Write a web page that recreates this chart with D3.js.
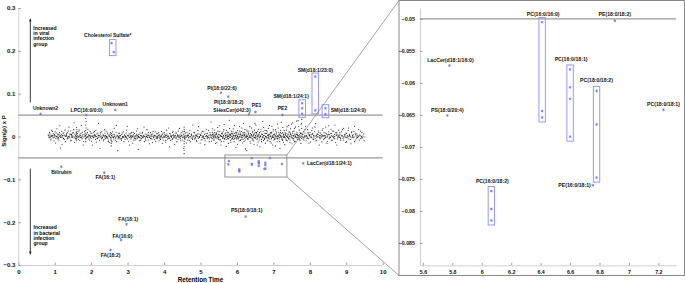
<!DOCTYPE html>
<html>
<head>
<meta http-equiv="Content-Type" content="text/html; charset=UTF-8">
<script src="https://cdn.jsdelivr.net/npm/d3@7"></script>
<style>
body { margin: 0; background: #fff; }
text { font-family: "Liberation Sans", Arial, sans-serif; font-weight: bold; }
</style>
</head>
<body>

<div class="container"></div>

<script>

// ---- data ----
// significant features in the full plot (rt = retention time, val = sign(rho) x P)
var mainNames = ["Cholesterol Sulfate*", "Unknown2", "LPC(16:0/0:0)", "Unknown1", "PI(18:0/22:6)",
                 "PI(18:0/18:2)", "SHexCer(d42:3)", "PE1", "PE2", "SM(d18:1/24:1)", "SM(d18:1/23:0)",
                 "SM(d18:1/24:0)", "Bilirubin", "FA(16:1)", "FA(18:1)", "FA(16:0)", "FA(18:2)",
                 "PS(18:0/18:1)", "LacCer(d18:1/24:1)"];
var mainRT = [[2.56, 2.62], [0.61], [1.86], [2.66], [5.56],
              [5.76], [6.33], [6.51], [7.25], [7.79, 7.79, 7.79], [8.15, 8.15],
              [8.43, 8.43], [1.18], [2.36], [2.97], [2.82], [2.53],
              [6.24], [7.82]];
var mainVal = [[0.218, 0.197], [0.0525], [0.05], [0.062], [0.102],
               [0.093], [0.052], [0.057], [0.05], [0.0775, 0.066, 0.053], [0.14, 0.061],
               [0.066, 0.052], [-0.0705], [-0.0845], [-0.205], [-0.2417], [-0.265],
               [-0.187], [-0.0627]];

// features inside the zoomed window
var zoomNames = ["LacCer(d18:1/16:0)", "PS(18:0/20:4)", "PC(16:0/16:0)", "PE(18:0/18:2)", "PC(16:0/18:1)",
                 "PC(18:0/18:2)", "PE(16:0/18:1)", "PC(18:0/18:1)", "PC(16:0/18:2)"];
var zoomRT = [[5.78], [5.766], [6.41, 6.41, 6.41], [6.904], [6.6, 6.6, 6.6, 6.6],
              [6.78, 6.78, 6.78], [6.755], [7.235], [6.065, 6.065, 6.065]];
var zoomVal = [[-0.0573], [-0.0651], [-0.0505, -0.0644, -0.0654], [-0.0503], [-0.0579, -0.0607, -0.0625, -0.0684],
               [-0.06125, -0.0665, -0.0748], [-0.076], [-0.0642], [-0.0769, -0.0797, -0.0815]];

var mainXTicks = [0, 1, 2, 3, 4, 5, 6, 7, 8, 9, 10];
var mainYTicks = [-0.3, -0.2, -0.1, 0, 0.1, 0.2, 0.3];
var zoomXTicks = [5.6, 5.8, 6, 6.2, 6.4, 6.6, 6.8, 7, 7.2];
var zoomYTicks = [-0.085, -0.08, -0.075, -0.07, -0.065, -0.06, -0.055, -0.05];
var cutoff = 0.05;
var zoomWindowRT = [5.67, 7.37];
var zoomWindowVal = [-0.0946, -0.0432];

// all other features (non significant), value in thousandths
var cloud = [
 [0.82,4],[0.84,-3],[0.86,9],[0.88,1],[0.9,-6],[0.91,14],[0.93,2],[0.95,-1],[0.96,7],[0.98,-10],[1.0,3],[1.01,11],[1.03,-4],[1.05,0],[1.06,18],[1.08,6],[1.1,-2],[1.11,-8],[1.13,9],[1.15,2],[1.16,-27],[1.18,5],[1.19,12],[1.21,-1],[1.23,7],[1.24,-5],[1.26,3],[1.28,15],[1.29,-12],[1.3,1],
 [1.32,4],[1.34,-6],[1.35,10],[1.37,0],[1.39,22],[1.4,-3],[1.42,6],[1.44,13],[1.45,-9],[1.47,2],[1.49,8],[1.5,-1],[1.52,16],[1.54,-14],[1.55,5],[1.57,-4],[1.59,9],[1.6,-10],[1.6,-5],[1.6,0],[1.6,4],[1.6,8],[1.61,12],[1.61,17],[1.6,21],[1.63,3],[1.65,-7],[1.66,11],[1.68,1],[1.7,-2],[1.72,7],[1.73,26],[1.75,-5],[1.77,4],[1.79,-11],
 [1.81,6],[1.83,0],[1.85,-12],[1.85,-6],[1.85,2],[1.85,8],[1.85,14],[1.86,20],[1.85,27],[1.86,35],[1.85,42],[1.88,-3],[1.9,9],[1.92,-1],[1.93,4],[1.95,-8],[1.97,12],[1.98,1],[2.0,-4],[2.02,7],[2.03,-20],[2.05,3],[2.07,10],[2.08,-2],[2.1,5],[2.12,-7],[2.13,14],[2.15,0],[2.17,-5],[2.18,8],[2.2,31],[2.22,2],[2.23,-9],[2.25,6],[2.27,-1],[2.29,11],
 [2.31,-3],[2.33,4],[2.34,-10],[2.36,1],[2.38,8],[2.39,-5],[2.41,13],[2.43,0],[2.44,-2],[2.46,6],[2.48,-8],[2.49,3],[2.51,-14],[2.53,9],[2.55,-22],[2.55,-16],[2.55,-9],[2.55,-3],[2.56,2],[2.56,7],[2.58,-1],[2.6,5],[2.62,-6],[2.63,19],[2.65,1],[2.67,-4],[2.68,10],[2.7,-12],[2.72,3],[2.73,-33],[2.75,0],[2.77,7],[2.79,-6],
 [2.81,2],[2.83,-9],[2.84,5],[2.86,-3],[2.88,11],[2.89,-1],[2.91,4],[2.93,-7],[2.94,0],[2.96,8],[2.98,-4],[2.99,24],[3.01,2],[3.03,-11],[3.04,6],[3.06,-2],[3.08,3],[3.09,-6],[3.11,9],[3.13,0],[3.14,-15],[3.16,4],[3.18,-3],[3.19,7],[3.21,-8],[3.23,1],[3.24,13],[3.26,-5],[3.28,2],[3.29,-30],
 [3.31,5],[3.33,-2],[3.34,8],[3.36,-9],[3.38,1],[3.39,-4],[3.41,10],[3.43,-1],[3.44,3],[3.46,-12],[3.48,6],[3.49,-6],[3.51,0],[3.53,16],[3.54,-3],[3.56,4],[3.58,-8],[3.59,2],[3.61,-2],[3.63,9],[3.64,-5],[3.66,1],[3.68,-14],[3.69,6],[3.71,-1],[3.73,3],[3.74,-7],[3.76,11],[3.78,0],[3.79,-4],
 [3.81,7],[3.83,-2],[3.84,2],[3.86,-10],[3.88,4],[3.89,-5],[3.91,0],[3.93,12],[3.94,-3],[3.96,5],[3.98,-8],[3.99,1],[4.01,9],[4.03,-1],[4.04,-13],[4.06,3],[4.08,6],[4.09,-6],[4.11,0],[4.13,20],[4.14,-3],[4.16,7],[4.18,-9],[4.19,2],[4.21,-2],[4.23,10],[4.24,-5],[4.26,4],[4.28,-1],[4.29,-18],
 [4.31,3],[4.33,-4],[4.34,8],[4.36,0],[4.38,-7],[4.39,13],[4.41,2],[4.43,-3],[4.44,6],[4.46,-10],[4.48,1],[4.49,9],[4.51,-2],[4.53,4],[4.55,-40],[4.55,-32],[4.55,-24],[4.55,-17],[4.55,-11],[4.56,-5],[4.55,0],[4.55,6],[4.56,12],[4.55,17],[4.55,22],[4.58,-6],[4.6,3],[4.62,-1],[4.63,10],[4.65,-8],[4.67,2],[4.68,-3],[4.7,7],[4.72,-12],[4.73,0],[4.75,5],[4.77,-5],[4.79,27],
 [4.81,1],[4.83,-6],[4.84,9],[4.86,-2],[4.88,4],[4.89,-9],[4.91,0],[4.93,14],[4.94,-4],[4.96,6],[4.98,-1],[4.99,-15],[5.01,3],[5.03,8],[5.04,-7],[5.06,1],[5.08,-3],[5.09,11],[5.11,5],[5.13,-10],[5.14,0],[5.16,17],[5.18,-4],[5.19,7],[5.21,-2],[5.23,3],[5.24,-12],[5.26,9],[5.28,-1],[5.29,34],
 [5.31,2],[5.32,-5],[5.33,10],[5.35,-1],[5.36,6],[5.37,-9],[5.38,15],[5.4,0],[5.41,4],[5.42,-3],[5.44,8],[5.45,-14],[5.46,1],[5.47,21],[5.49,-6],[5.5,5],[5.51,-2],[5.53,12],[5.54,-8],[5.55,3],[5.56,-20],[5.58,7],[5.59,0],[5.6,-4],[5.62,11],[5.63,2],[5.64,-11],[5.65,28],[5.67,6],[5.68,-3],[5.69,1],[5.71,14],[5.72,-7],[5.73,4],[5.74,-1],[5.76,9],[5.77,-16],[5.78,2],[5.79,38],
 [5.81,-2],[5.82,6],[5.83,-9],[5.85,12],[5.86,0],[5.87,4],[5.88,-5],[5.9,18],[5.91,2],[5.92,-12],[5.93,7],[5.95,-1],[5.96,10],[5.97,-25],[5.98,3],[6.0,-6],[6.01,14],[6.02,1],[6.03,-3],[6.05,8],[6.06,-10],[6.07,24],[6.08,0],[6.1,5],[6.11,-7],[6.12,12],[6.13,-1],[6.15,3],[6.16,-15],[6.17,9],[6.18,31],[6.2,-4],[6.21,2],[6.22,16],[6.23,-8],[6.25,6],[6.26,-2],[6.27,-33],[6.28,11],[6.29,0],
 [6.31,4],[6.32,-6],[6.33,13],[6.35,1],[6.36,-11],[6.37,7],[6.38,-2],[6.4,20],[6.41,3],[6.42,-8],[6.43,10],[6.45,-1],[6.46,5],[6.47,-18],[6.48,15],[6.5,-4],[6.51,2],[6.52,27],[6.53,8],[6.55,-7],[6.56,0],[6.57,12],[6.58,-13],[6.6,4],[6.61,-3],[6.62,9],[6.63,-24],[6.65,1],[6.66,17],[6.67,-6],[6.68,6],[6.7,-1],[6.71,35],[6.72,11],[6.73,-9],[6.75,3],[6.76,-4],[6.77,14],[6.78,-16],[6.79,0],
 [6.81,7],[6.82,-3],[6.83,11],[6.85,-8],[6.86,2],[6.87,19],[6.88,-1],[6.9,5],[6.91,-12],[6.92,9],[6.93,0],[6.95,-5],[6.96,24],[6.97,3],[6.98,-20],[7.0,13],[7.01,-2],[7.02,6],[7.03,-7],[7.05,1],[7.06,16],[7.07,-4],[7.08,8],[7.1,-11],[7.11,29],[7.12,2],[7.13,-1],[7.15,10],[7.16,-6],[7.17,4],[7.18,-28],[7.2,14],[7.21,0],[7.22,-3],[7.23,7],[7.25,-9],[7.26,21],[7.27,1],[7.28,-14],[7.29,5],
 [7.31,-2],[7.32,9],[7.33,3],[7.35,-6],[7.36,15],[7.37,0],[7.38,-10],[7.4,6],[7.41,26],[7.42,-3],[7.43,11],[7.45,1],[7.46,-8],[7.47,18],[7.48,4],[7.5,-1],[7.51,-17],[7.52,8],[7.53,32],[7.55,2],[7.56,-5],[7.57,13],[7.58,-12],[7.6,0],[7.61,22],[7.62,6],[7.63,-3],[7.65,10],[7.66,-7],[7.67,3],[7.68,37],[7.7,-2],[7.71,15],[7.72,1],[7.73,-9],[7.75,7],[7.76,28],[7.77,-4],[7.78,40],[7.78,19],[7.79,-1],
 [7.81,5],[7.82,-6],[7.83,12],[7.85,0],[7.86,-3],[7.87,8],[7.88,24],[7.9,-10],[7.91,3],[7.93,-1],[7.94,16],[7.96,6],[7.97,-5],[7.99,2],[8.01,10],[8.02,-13],[8.04,4],[8.05,-2],[8.07,20],[8.08,7],[8.1,-7],[8.11,1],[8.13,11],[8.15,-4],[8.16,30],[8.18,3],[8.19,-9],[8.21,6],[8.22,-1],[8.24,13],[8.26,-20],[8.27,2],[8.29,8],
 [8.31,-3],[8.33,5],[8.34,14],[8.36,0],[8.38,-7],[8.39,9],[8.41,2],[8.43,-2],[8.44,22],[8.46,6],[8.48,-11],[8.49,1],[8.51,11],[8.53,-5],[8.54,4],[8.56,-1],[8.58,17],[8.59,7],[8.61,-8],[8.63,0],[8.64,12],[8.66,-3],[8.68,5],[8.69,27],[8.71,-14],[8.73,3],[8.74,9],[8.76,-6],[8.78,1],[8.79,15],
 [8.81,-2],[8.83,6],[8.85,-9],[8.87,11],[8.89,1],[8.91,-4],[8.93,19],[8.95,4],[8.97,-1],[8.99,8],[9.01,-12],[9.03,2],[9.05,14],[9.07,-6],[9.09,5],[9.11,0],[9.13,-17],[9.15,9],[9.17,3],[9.19,-3],[9.21,12],[9.23,24],[9.25,-8],[9.27,1],[9.29,6],[9.31,-2],[9.34,16],[9.37,4],[9.4,-5],[9.43,9],[9.46,1],[9.49,-10],
 [0.85,-1],[0.87,6],[0.89,-8],[0.92,3],[0.94,12],[0.97,-3],[0.99,5],[1.02,-15],[1.04,8],[1.07,1],[1.09,-5],[1.12,4],[1.14,25],[1.17,-2],[1.2,-18],[1.22,3],[1.25,10],[1.27,-7],[1.31,0],[1.33,7],[1.36,-4],[1.38,13],[1.41,1],[1.43,-10],[1.46,5],[1.48,-2],[1.51,9],[1.53,32],[1.56,0],[1.58,-6],[1.62,7],[1.64,-2],[1.67,15],[1.69,-9],[1.71,3],[1.74,-1],[1.76,10],[1.78,-20],
 [1.82,12],[1.84,-4],[1.87,5],[1.89,-1],[1.91,17],[1.94,-6],[1.96,2],[1.99,8],[2.01,-11],[2.04,0],[2.06,-3],[2.09,12],[2.11,2],[2.14,-13],[2.16,6],[2.19,-2],[2.21,3],[2.24,-28],[2.26,9],[2.28,-5],[2.32,1],[2.35,-7],[2.37,16],[2.4,2],[2.42,-3],[2.45,8],[2.47,-12],[2.5,0],[2.52,5],[2.54,-6],[2.57,-12],[2.59,11],[2.61,-2],[2.64,4],[2.66,-9],[2.69,26],[2.71,1],[2.74,-5],[2.76,8],[2.78,-2],
 [2.82,-5],[2.85,8],[2.87,0],[2.9,-12],[2.92,3],[2.95,-2],[2.97,15],[3.0,-6],[3.02,1],[3.05,-20],[3.07,7],[3.1,-3],[3.12,2],[3.15,10],[3.17,-8],[3.2,0],[3.22,-4],[3.25,5],[3.27,18],[3.3,-2],[3.32,-10],[3.35,3],[3.37,-5],[3.4,7],[3.42,-1],[3.45,22],[3.47,0],[3.5,-9],[3.52,4],[3.55,-2],[3.57,9],[3.6,-17],[3.62,1],[3.65,5],[3.67,-6],[3.7,12],[3.72,-3],[3.75,2],[3.77,-11],[3.8,6],
 [3.82,-4],[3.85,9],[3.87,-1],[3.9,-7],[3.92,3],[3.95,-16],[3.97,8],[4.0,-2],[4.02,4],[4.05,-9],[4.07,15],[4.1,1],[4.12,-4],[4.15,-24],[4.17,6],[4.2,0],[4.22,-7],[4.25,11],[4.27,2],[4.3,-3],[4.32,8],[4.35,-12],[4.37,4],[4.4,-1],[4.42,19],[4.45,-5],[4.47,3],[4.5,-8],[4.52,12],[4.54,-28],[4.57,-2],[4.59,8],[4.61,-15],[4.64,1],[4.66,6],[4.69,-9],[4.71,14],[4.74,-3],[4.76,3],[4.78,-7],
 [4.82,10],[4.85,-4],[4.87,2],[4.9,-11],[4.92,6],[4.95,23],[4.97,-2],[5.0,4],[5.02,-8],[5.05,12],[5.07,0],[5.1,-5],[5.12,-19],[5.15,7],[5.17,2],[5.2,-3],[5.22,14],[5.25,-6],[5.27,4],[5.3,-11],[5.325,18],[5.345,3],[5.37,-3],[5.39,9],[5.415,-16],[5.435,5],[5.46,-1],[5.48,12],[5.505,-7],[5.525,25],[5.55,1],[5.57,-12],[5.595,8],[5.615,-3],[5.64,16],[5.66,-6],[5.685,3],[5.705,-23],[5.73,10],[5.75,0],[5.775,-5],[5.795,19],
 [5.815,4],[5.835,-14],[5.855,7],[5.875,-1],[5.895,11],[5.915,-7],[5.935,26],[5.955,2],[5.975,-4],[5.995,9],[6.015,-18],[6.035,5],[6.055,-1],[6.075,13],[6.095,-9],[6.115,3],[6.135,20],[6.155,-3],[6.175,6],[6.195,-11],[6.215,10],[6.235,-29],[6.255,1],[6.275,15],[6.295,-6],[6.315,8],[6.335,-2],[6.355,23],[6.375,-15],[6.395,4],[6.415,-4],[6.435,12],[6.455,-10],[6.475,6],[6.495,30],[6.515,-2],[6.535,9],[6.555,-20],[6.575,3],[6.595,17],[6.615,-8],[6.635,1],[6.655,11],[6.675,-12],[6.695,5],[6.715,-3],[6.735,21],[6.755,-7],[6.775,8],[6.795,-1],
 [6.815,14],[6.835,-10],[6.855,4],[6.875,-4],[6.895,26],[6.915,1],[6.935,-15],[6.955,9],[6.975,-2],[6.995,17],[7.015,-8],[7.035,5],[7.055,-22],[7.075,11],[7.095,0],[7.115,-5],[7.135,20],[7.155,6],[7.175,-12],[7.195,2],[7.215,33],[7.235,-7],[7.255,9],[7.275,-2],[7.295,14],[7.315,-19],[7.335,4],[7.355,-9],[7.375,23],[7.395,1],[7.415,-5],[7.435,10],[7.455,-14],[7.475,5],[7.495,29],[7.515,-3],[7.535,12],[7.555,-8],[7.575,19],[7.595,3],[7.615,-11],[7.635,36],[7.655,5],[7.675,-1],[7.695,24],[7.715,-6],[7.735,9],[7.755,-16],[7.775,31],[7.795,4],
 [7.84,-8],[7.865,17],[7.895,1],[7.92,-4],[7.95,9],[7.975,-15],[8.0,5],[8.03,-1],[8.055,14],[8.085,-6],[8.11,3],[8.14,22],[8.165,-10],[8.195,6],[8.22,0],[8.25,10],[8.28,-5],[8.305,3],[8.33,-12],[8.36,18],[8.385,2],[8.415,-4],[8.44,8],[8.47,-16],[8.495,4],[8.52,25],[8.55,-2],[8.575,7],[8.605,-9],[8.63,13],[8.66,1],[8.685,-5],[8.715,9],[8.74,-20],[8.77,4],[8.795,-1],
 [8.82,10],[8.845,-5],[8.875,3],[8.9,16],[8.93,-8],[8.955,1],[8.985,-14],[9.01,7],[9.04,-3],[9.065,20],[9.095,2],[9.12,-7],[9.15,11],[9.175,-1],[9.205,4],[9.23,-12],[9.26,8],[9.29,-4],[9.32,2],[9.36,-8],[9.39,13],[9.42,0],[9.45,-3],[9.48,6],[9.51,-1],
 [0.837,2],[0.872,-2],[0.918,0],[0.953,3],[0.991,-1],[1.027,1],[1.068,-3],[1.096,4],[1.137,0],[1.172,-1],[1.208,2],[1.243,-4],[1.284,1],[1.319,3],[1.357,-2],[1.388,0],[1.426,5],[1.461,-1],[1.497,1],[1.538,-3],[1.569,3],[1.611,-1],[1.646,0],[1.688,4],[1.723,-2],[1.754,1],[1.797,-1],[1.834,3],[1.866,-3],[1.907,0],[1.941,2],[1.978,-2],[2.013,1],[2.058,-1],[2.087,3],[2.124,0],[2.161,-4],[2.196,2],[2.238,-1],[2.272,1],[2.309,-3],[2.347,2],[2.381,-1],[2.418,0],[2.457,-4],[2.492,1],[2.528,-2],[2.566,3],[2.604,-1],[2.639,0],[2.676,-3],[2.712,1],[2.748,-2],[2.786,2],[2.821,-4],[2.858,0],[2.897,-2],[2.934,1],[2.968,-1],[3.007,3],[3.042,-3],[3.081,0],[3.117,-2],[3.154,1],[3.191,-4],[3.228,2],[3.263,-1],[3.302,0],[3.339,-3],[3.374,2],[3.412,-1],[3.447,1],[3.486,-3],[3.521,0],[3.559,2],[3.596,-2],[3.632,-4],[3.669,1],[3.707,-1],[3.744,2],[3.781,-3],[3.818,0],[3.856,3],[3.893,-1],[3.928,1],[3.966,-3],[4.003,0],[4.041,2],[4.077,-2],[4.114,1],[4.152,-4],[4.188,0],[4.226,3],[4.263,-1],[4.301,1],[4.337,-3],[4.374,2],[4.412,-1],[4.449,0],[4.487,3],[4.523,-2],[4.562,1],[4.598,-1],[4.636,2],[4.673,-3],[4.709,0],[4.747,4],[4.784,-1],[4.822,1],[4.858,-3],[4.896,2],[4.933,-1],[4.971,0],[5.008,3],[5.045,-2],[5.083,1],[5.119,-4],[5.157,2],[5.194,0],[5.232,-2],[5.269,4],
 [5.305,-3],[5.326,5],[5.347,0],[5.368,-6],[5.389,3],[5.409,-1],[5.431,7],[5.452,-4],[5.473,1],[5.494,-2],[5.515,4],[5.536,-7],[5.557,2],[5.578,0],[5.599,6],[5.62,-3],[5.641,1],[5.662,-5],[5.683,8],[5.704,-1],[5.725,3],[5.746,-4],[5.767,0],[5.788,5],[5.809,-2],[5.83,2],[5.851,-6],[5.872,7],[5.893,-1],[5.914,3],[5.935,-4],[5.956,1],[5.977,6],[5.998,-2],[6.019,0],[6.04,-5],[6.061,4],[6.082,-1],[6.103,8],[6.124,-3],[6.145,2],[6.166,-7],[6.187,1],[6.208,5],[6.229,-2],[6.25,0],[6.271,3],[6.292,-5],[6.313,7],[6.334,-1],[6.355,2],[6.376,-3],[6.397,5],[6.418,0],[6.439,-6],[6.46,3],[6.481,-2],[6.502,9],[6.523,-1],[6.544,4],[6.565,-4],[6.586,1],[6.607,6],[6.628,-2],[6.649,0],[6.67,-7],[6.691,4],[6.712,-1],[6.733,2],[6.754,-4],[6.775,7],[6.796,0],[6.817,-3],[6.838,3],[6.859,-1],[6.88,5],[6.901,-6],[6.922,1],[6.943,8],[6.964,-2],[6.985,0],[7.006,4],[7.027,-4],[7.048,2],[7.069,-1],[7.09,6],[7.111,-5],[7.132,0],[7.153,3],[7.174,-2],[7.195,9],[7.216,-1],[7.237,1],[7.258,-6],[7.279,4],[7.3,0],[7.321,-3],[7.342,7],[7.363,1],[7.384,-2],[7.405,4],[7.426,-5],[7.447,0],[7.468,8],[7.489,-1],[7.51,3],[7.531,-4],[7.552,1],[7.573,6],[7.594,-2],[7.615,0],[7.636,5],[7.657,-3],[7.678,2],[7.699,-6],[7.72,4],[7.741,-1],[7.762,7],[7.783,0],
 [7.821,-2],[7.862,3],[7.903,0],[7.944,-4],[7.985,2],[8.026,-1],[8.067,5],[8.108,-3],[8.149,1],[8.19,-1],[8.231,4],[8.272,-2],[8.313,0],[8.354,3],[8.395,-4],[8.436,1],[8.477,-1],[8.518,5],[8.559,-2],[8.6,2],[8.641,-3],[8.682,0],[8.723,4],[8.764,-1],[8.805,2],[8.846,-3],[8.887,1],[8.928,-1],[8.969,4],[9.01,-2],[9.051,0],[9.092,3],[9.133,-3],[9.174,1],[9.215,-1],[9.256,4],[9.297,-2],[9.338,0],[9.379,2],[9.42,-3]
];

// ---- label placement (px offsets from the topmost point of each feature) ----
var mainLabelPos = {
    "Cholesterol Sulfate*": [-3.8, -6.1, "middle"], "Unknown2": [5, -4.5, "middle"],
    "LPC(16:0/0:0)": [0.5, -3.5, "middle"], "Unknown1": [0, -4, "middle"],
    "PI(18:0/22:6)": [1, -3.3, "middle"], "PI(18:0/18:2)": [0.5, 7, "middle"],
    "SHexCer(d42:3)": [-17, -2.7, "middle"], "PE1": [1, -4.6, "middle"], "PE2": [0, -4.8, "middle"],
    "SM(d18:1/24:1)": [-11, -5.8, "middle"], "SM(d18:1/23:0)": [0, -5, "middle"],
    "SM(d18:1/24:0)": [5.2, 3.5, "start"], "Bilirubin": [0, 7.3, "middle"], "FA(16:1)": [1, 6.3, "middle"],
    "FA(18:1)": [1.7, -3.5, "middle"], "FA(16:0)": [1.4, -2.2, "middle"], "FA(18:2)": [0, 7, "middle"],
    "PS(18:0/18:1)": [1, -4.1, "middle"], "LacCer(d18:1/24:1)": [3.7, 1.8, "start"]
};
var zoomLabelPos = {
    "LacCer(d18:1/16:0)": [1, -3.6, "middle"], "PS(18:0/20:4)": [0, -3.8, "middle"],
    "PC(16:0/16:0)": [1, -5.6, "middle"], "PE(18:0/18:2)": [0, -4.4, "middle"],
    "PC(16:0/18:1)": [1, -8.3, "middle"], "PC(18:0/18:2)": [0, -8.4, "middle"],
    "PE(16:0/18:1)": [-2, 1.8, "end"], "PC(18:0/18:1)": [0, -3.4, "middle"],
    "PC(16:0/18:2)": [1, -8.4, "middle"]
};

var width = 685;
var height = 283;
var blue = "#7272f2";
var boxBlue = "#8c8cff";
var axisGray = "#999";

var svg = d3.select(".container")
            .append("svg")
                .attr("width", width)
                .attr("height", height);

// ---- main panel ----
var x = d3.scaleLinear().domain([0, 10]).range([18.3, 382.7]);
var y = d3.scaleLinear().domain([-0.3, 0.3]).range([265, 8]);

var main = svg.append("g");

main.append("g")
    .attr("transform", "translate(0," + y(-0.3) + ")")
    .call(d3.axisBottom(x).tickValues(mainXTicks).tickSizeInner(-2.5).tickSizeOuter(0).tickPadding(4.5))
    .call(styleAxis, 6);

main.append("g")
    .attr("transform", "translate(" + x(0) + ",0)")
    .call(d3.axisLeft(y).tickValues(mainYTicks).tickSizeInner(-2.5).tickSizeOuter(0).tickPadding(3)
          .tickFormat(function(d) { return d3.format("~g")(d); }))
    .call(styleAxis, 6);

// significance cut offs
main.selectAll("line.cut")
    .data([cutoff, -cutoff])
    .enter().append("line")
        .attr("class", "cut")
        .attr("x1", x(0)).attr("x2", x(10))
        .attr("y1", function(d) { return y(d); })
        .attr("y2", function(d) { return y(d); })
        .style("stroke", axisGray)
        .style("stroke-width", 1.4);

main.append("g").selectAll("circle")
    .data(cloud)
    .enter().append("circle")
        .attr("cx", function(d) { return x(d[0]); })
        .attr("cy", function(d) { return y(d[1] / 1000); })
        .attr("r", 0.55)
        .style("fill", "#111");

drawFeatures(main, x, y, mainNames, mainRT, mainVal, mainLabelPos, 3.3, 3.5, 5);
drawFeatures(main, x, y, zoomNames, zoomRT, zoomVal, null, 0, 0, 5);

// window that gets magnified
var wx0 = x(zoomWindowRT[0]), wx1 = x(zoomWindowRT[1]);
var wy0 = y(zoomWindowVal[1]), wy1 = y(zoomWindowVal[0]);
main.append("rect")
    .attr("x", wx0).attr("y", wy0)
    .attr("width", wx1 - wx0).attr("height", wy1 - wy0)
    .style("fill", "none")
    .style("stroke", "#8a8a8a")
    .style("stroke-width", 0.9);

// arrows + group annotations
var defs = svg.append("defs");
defs.append("marker")
    .attr("id", "head")
    .attr("viewBox", "0 0 10 10")
    .attr("refX", 9).attr("refY", 5)
    .attr("markerWidth", 3.5).attr("markerHeight", 3.5)
    .attr("orient", "auto")
  .append("path")
    .attr("d", "M0,1L10,5L0,9z")
    .style("fill", "#222");

main.append("line")
    .attr("x1", 30.3).attr("x2", 30.3)
    .attr("y1", y(0.08)).attr("y2", y(0.275))
    .style("stroke", "#222").style("stroke-width", 0.9)
    .attr("marker-end", "url(#head)");
main.append("line")
    .attr("x1", 30.3).attr("x2", 30.3)
    .attr("y1", y(-0.075)).attr("y2", y(-0.275))
    .style("stroke", "#222").style("stroke-width", 0.9)
    .attr("marker-end", "url(#head)");

addLines(main, 33.3, 30, ["Increased", "in viral", "infection", "group"]);
addLines(main, 33.5, 229.3, ["Increased", "in bacterial", "infection", "group"]);

main.append("text")
    .attr("transform", "translate(5.5,131) rotate(-90)")
    .attr("text-anchor", "middle")
    .style("font-size", "6px")
    .text("Sign(\u03C1) x P");

main.append("text")
    .attr("x", x(5)).attr("y", 282.3)
    .attr("text-anchor", "middle")
    .style("font-size", "6.3px")
    .text("Retention Time");

// ---- zoomed panel ----
var frame = { x0: 399, y0: 0.5, x1: 684.5, y1: 275.5 };
var zx = d3.scaleLinear().domain([5.58, 7.32]).range([420, 676]);
var zy = d3.scaleLinear().domain([-0.0885, -0.0483]).range([265.3, 8]);

// connector lines from the window to the panel
svg.append("line")
    .attr("x1", wx1).attr("y1", wy0).attr("x2", frame.x0).attr("y2", frame.y0)
    .style("stroke", "#8a8a8a").style("stroke-width", 0.8);
svg.append("line")
    .attr("x1", wx1).attr("y1", wy1).attr("x2", frame.x0).attr("y2", frame.y1)
    .style("stroke", "#8a8a8a").style("stroke-width", 0.8);

svg.append("rect")
    .attr("x", frame.x0).attr("y", frame.y0)
    .attr("width", frame.x1 - frame.x0).attr("height", frame.y1 - frame.y0)
    .style("fill", "#fff")
    .style("stroke", "#8a8a8a")
    .style("stroke-width", 1);

var zoom = svg.append("g");

zoom.append("g")
    .attr("transform", "translate(0," + zy.range()[0] + ")")
    .call(d3.axisBottom(zx).tickValues(zoomXTicks).tickSizeInner(-2.5).tickSizeOuter(0).tickPadding(4.5)
          .tickFormat(function(d) { return d3.format("~g")(d); }))
    .call(styleAxis, 5.3);

zoom.append("g")
    .attr("transform", "translate(" + zx.range()[0] + ",0)")
    .call(d3.axisLeft(zy).tickValues(zoomYTicks).tickSizeInner(-2.5).tickSizeOuter(0).tickPadding(5)
          .tickFormat(function(d) { return d3.format("~g")(d); }))
    .call(styleAxis, 5.3);

zoom.append("line")
    .attr("x1", zx.range()[0]).attr("x2", zx.range()[1])
    .attr("y1", zy(-cutoff)).attr("y2", zy(-cutoff))
    .style("stroke", axisGray)
    .style("stroke-width", 1.2);

drawFeatures(zoom, zx, zy, zoomNames, zoomRT, zoomVal, zoomLabelPos, 3.2, 4.5, 5.2);

// draws blue points, a box round multi-point features, and the name
function drawFeatures(g, xs, ys, names, rts, vals, labelPos, boxHalf, boxPad, fontSize) {
    names.forEach(function(name, i) {
        var pts = rts[i].map(function(rt, j) { return [rt, vals[i][j]]; });
        var top = pts[d3.maxIndex(pts, function(p) { return p[1]; })];
        var fg = g.append("g").attr("class", "feature");

        if (pts.length > 1 && labelPos) {
            var cx = xs(d3.mean(pts, function(p) { return p[0]; }));
            var yTop = ys(d3.max(pts, function(p) { return p[1]; })) - boxPad;
            var yBot = ys(d3.min(pts, function(p) { return p[1]; })) + boxPad;
            fg.append("rect")
                .attr("x", cx - boxHalf).attr("y", yTop)
                .attr("width", boxHalf * 2).attr("height", yBot - yTop)
                .style("fill", "none")
                .style("stroke", boxBlue)
                .style("stroke-width", 0.9);
        }

        fg.selectAll("path")
            .data(pts)
            .enter().append("path")
                .attr("transform", function(p) { return "translate(" + xs(p[0]) + "," + ys(p[1]) + ")"; })
                .attr("d", d3.symbol(d3.symbolAsterisk, 5))
                .style("fill", "none")
                .style("stroke", blue)
                .style("stroke-width", 0.8);

        if (labelPos) {
            var lp = labelPos[name];
            fg.append("text")
                .attr("x", xs(top[0]) + lp[0])
                .attr("y", ys(top[1]) + lp[1])
                .attr("text-anchor", lp[2])
                .style("font-size", fontSize + "px")
                .style("fill", "#111")
                .text(name);
        }
    });
}

function addLines(g, x0, y0, lines) {
    var t = g.append("text").style("font-size", "5px");
    lines.forEach(function(s, i) {
        t.append("tspan").attr("x", x0).attr("y", y0 + i * 5.2).text(s);
    });
}

function styleAxis(sel, fontSize) {
    sel.select(".domain").style("stroke", "#c4c4c4").style("stroke-width", 0.8);
    sel.selectAll(".tick line").style("stroke", "#777").style("stroke-width", 0.7);
    sel.selectAll(".tick text")
        .style("font-size", fontSize + "px")
        .style("font-family", "'Liberation Sans', Arial, sans-serif")
        .style("font-weight", "bold")
        .style("fill", "#111");
}

</script>
</body>
</html>
